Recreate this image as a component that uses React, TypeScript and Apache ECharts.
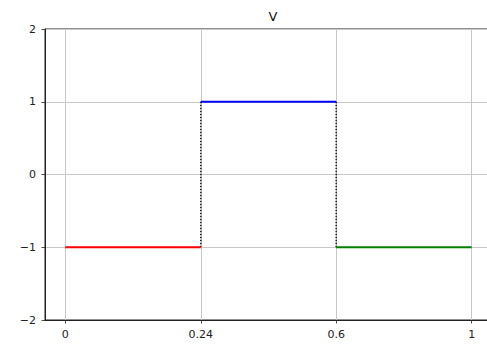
import React, { useEffect, useRef } from "react";
import * as echarts from "echarts";

const breakpoints = ["0", "0.24", "0.6", "1"];
const levels = [-1, 1, -1];
const segmentColors = ["#ff0000", "#0000ff", "#008000"];
const yTicks = [-2, -1, 0, 1, 2];
const titleText = "V";

const FONT = "DejaVu Sans";

export default function App() {
  const ref = useRef<HTMLDivElement>(null);
  useEffect(() => {
    if (!ref.current) return;
    const chart = echarts.init(ref.current, null, { renderer: "svg" });
    const series: any[] = [];
    levels.forEach((lv, i) => {
      series.push({
        type: "line",
        data: [
          [i, lv],
          [i + 1, lv],
        ],
        symbol: "none",
        lineStyle: { color: segmentColors[i], width: 1.8 },
        z: 3,
      });
    });
    for (let i = 1; i < levels.length; i++) {
      series.push({
        type: "line",
        data: [
          [i, levels[i - 1]],
          [i, levels[i]],
        ],
        symbol: "none",
        lineStyle: { color: "#222", width: 1.6, type: [1.5, 1.5] },
        z: 2,
      });
    }
    const tickIdx = breakpoints.map((_, i) => i);
    chart.setOption({
      animation: false,
      title: {
        text: titleText,
        left: 268,
        textAlign: "center",
        top: 5,
        textStyle: { fontFamily: FONT, fontSize: 13, fontWeight: "normal", color: "#111" },
      },
      grid: {
        left: 45,
        top: 29,
        right: -5,
        bottom: 25,
        show: true,
        borderColor: "#222",
        borderWidth: 1,
        outerBoundsMode: "none",
        containLabel: false,
      },
      xAxis: {
        type: "value",
        min: -0.15,
        max: breakpoints.length - 1 + 0.15,
        axisLine: { show: true, onZero: false, lineStyle: { color: "#222", width: 1 } },
        axisTick: {
          show: true,
          length: 3.5,
          lineStyle: { color: "#222", width: 0.8 },
          customValues: tickIdx,
        },
        axisLabel: {
          customValues: tickIdx,
          formatter: (v: number) => breakpoints[Math.round(v)] ?? "",
          fontFamily: FONT,
          fontSize: 11,
          color: "#222",
          margin: 9,
          showMinLabel: true,
          showMaxLabel: true,
        },
        splitLine: {
          show: true,
          lineStyle: { color: "#c8c8c8", width: 1 },
          customValues: tickIdx,
        },
      },
      yAxis: {
        type: "value",
        min: yTicks[0],
        max: yTicks[yTicks.length - 1],
        interval: 1,
        axisLine: { show: true, onZero: false, lineStyle: { color: "#222", width: 1 } },
        axisTick: { show: true, length: 3.5, lineStyle: { color: "#222", width: 0.8 } },
        axisLabel: {
          formatter: (v: number) => String(v).replace("-", "\u2212"),
          fontFamily: FONT,
          fontSize: 11,
          color: "#222",
          margin: 9,
        },
        splitLine: { show: true, lineStyle: { color: "#c8c8c8", width: 1 } },
      },
      series,
    });
    return () => chart.dispose();
  }, []);
  return (
    <div
      ref={ref}
      style={{ position: "fixed", left: 0, top: 0, width: 487, height: 345, background: "#fff" }}
    />
  );
}
